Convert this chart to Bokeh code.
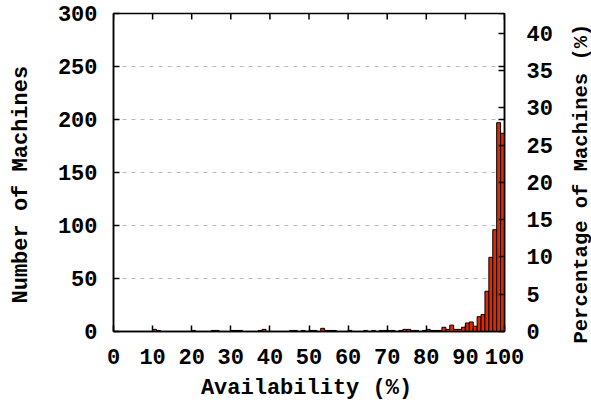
import math

from bokeh.plotting import figure
from bokeh.layouts import row, column
from bokeh.models import LinearAxis, Range1d, FixedTicker
from bokeh.core.properties import value
from bokeh.embed import file_html
from bokeh.resources import INLINE

# Availability histogram: 1%-wide bins, number of machines in each bin
bin_start = list(range(0, 100))
machines = [0] * 100
counts_by_bin = {
    10: 2, 11: 1, 20: 1, 25: 1, 26: 1, 30: 1, 31: 1, 32: 1, 37: 1, 38: 2,
    45: 1, 46: 1, 48: 1, 50: 1, 51: 1, 53: 3, 54: 1, 55: 1, 56: 1, 60: 1,
    64: 1, 66: 1, 68: 1, 69: 1, 70: 1, 71: 1, 73: 1, 74: 2, 75: 2, 76: 1,
    77: 1, 79: 1, 80: 2, 81: 1, 82: 1, 83: 1, 84: 4, 85: 2, 86: 6, 87: 2,
    88: 2, 89: 4, 90: 8, 91: 9, 92: 5, 93: 14, 94: 16, 95: 38, 96: 70,
    97: 96, 98: 197, 99: 187,
}
for b, c in counts_by_bin.items():
    machines[b] = c

x_ticks = [0, 10, 20, 30, 40, 50, 60, 70, 80, 90, 100]
count_ticks = [0, 50, 100, 150, 200, 250, 300]
pct_ticks = [0, 5, 10, 15, 20, 25, 30, 35, 40]
grid_values = [50, 100, 150, 200, 250]

x_title = "Availability (%)"
left_title = "Number of Machines"
right_title = "Percentage of Machines (%)"

total = sum(machines)
x_max = 100
count_max = 300

FONT = "Liberation Mono"
FSIZE = "22px"

# page layout: ([left title | chart] over x-title strip) | right title
W, H = 591, 400
LEFT_W, RIGHT_W, BOTTOM_H = 40, 30, 25
MAIN_W, MAIN_H = W - LEFT_W - RIGHT_W, H - BOTTOM_H
BORDER_TOP, BORDER_BOTTOM = 13, 44

p = figure(width=MAIN_W, height=MAIN_H, output_backend="svg", toolbar_location=None,
           x_range=Range1d(0, x_max), y_range=Range1d(0, count_max),
           x_axis_location=None, y_axis_location=None)
p.extra_y_ranges = {"pct": Range1d(0, count_max * 100.0 / total)}

p.min_border_left = 73
p.min_border_right = 57
p.min_border_top = BORDER_TOP
p.min_border_bottom = BORDER_BOTTOM
p.background_fill_color = "white"
p.border_fill_color = "white"
p.outline_line_color = "black"
p.outline_line_width = 1.5


def style_axis(ax, ticks):
    ax.ticker = FixedTicker(ticks=ticks)
    ax.major_tick_in = 6
    ax.major_tick_out = 0
    ax.minor_tick_in = 0
    ax.minor_tick_out = 0
    ax.axis_line_color = "black"
    ax.axis_line_width = 1.5
    ax.major_tick_line_color = "black"
    ax.major_tick_line_width = 1.5
    ax.major_label_text_font = FONT
    ax.major_label_text_font_style = "bold"
    ax.major_label_text_font_size = FSIZE
    ax.major_label_text_color = "black"


# bottom axis
xb = LinearAxis()
style_axis(xb, x_ticks)
xb.major_label_standoff = 17
p.add_layout(xb, "below")

# left axis: counts
yl = LinearAxis()
style_axis(yl, count_ticks)
yl.major_label_standoff = 16
p.add_layout(yl, "left")

# right axis: percentage of machines
yr = LinearAxis(y_range_name="pct")
style_axis(yr, pct_ticks)
yr.major_label_standoff = 22
p.add_layout(yr, "right")

p.xgrid.visible = False
p.ygrid.visible = False

# dashed horizontal grid
p.segment(x0=[0] * len(grid_values), x1=[x_max] * len(grid_values),
          y0=grid_values, y1=grid_values,
          line_color="#b8b8b8", line_width=1, line_dash="4 5")

# mirrored tick marks on the top and right borders (inner half is visible)
p.dash(x=x_ticks, y=[count_max] * len(x_ticks), angle=math.pi / 2, size=12,
       line_color="black", line_width=1.5)
p.dash(x=[x_max] * len(count_ticks), y=count_ticks, size=12,
       line_color="black", line_width=1.5)

# histogram bars
p.quad(left=bin_start, right=[b + 1 for b in bin_start], bottom=0, top=machines,
       fill_color="#e02800", line_color="black", line_width=1)


def title_strip(width, height, y_range, text, x, y, angle, align, size=FSIZE):
    """A blank pixel-unit panel carrying a single axis title."""
    s = figure(width=width, height=height, output_backend="svg", toolbar_location=None,
               x_range=Range1d(0, width), y_range=y_range,
               x_axis_location=None, y_axis_location=None, min_border=0)
    s.grid.visible = False
    s.outline_line_color = None
    s.background_fill_color = "white"
    s.border_fill_color = "white"
    s.text(x=[x], y=[y], text=[text], angle=angle,
           text_align=align, text_baseline="middle",
           text_font=value(FONT), text_font_style="bold",
           text_font_size=size, text_color="black")
    return s


# the left panel shares the chart frame's vertical extent (pixels from the row bottom)
left = title_strip(LEFT_W, MAIN_H, Range1d(BORDER_BOTTOM, MAIN_H - BORDER_TOP), left_title,
                   20.5, MAIN_H - 303, math.pi / 2, "left")
# the right panel spans the full page height
right = title_strip(RIGHT_W, H, Range1d(0, H), right_title,
                    19.5, H - 343, math.pi / 2, "left", "20.5px")
bottom = title_strip(LEFT_W + MAIN_W, BOTTOM_H, Range1d(0, BOTTOM_H), x_title,
                     306, BOTTOM_H - 13, 0, "center")

layout = row(column(row(left, p, spacing=0), bottom, spacing=0), right, spacing=0)

open("out.html", "w").write(file_html(layout, INLINE))
